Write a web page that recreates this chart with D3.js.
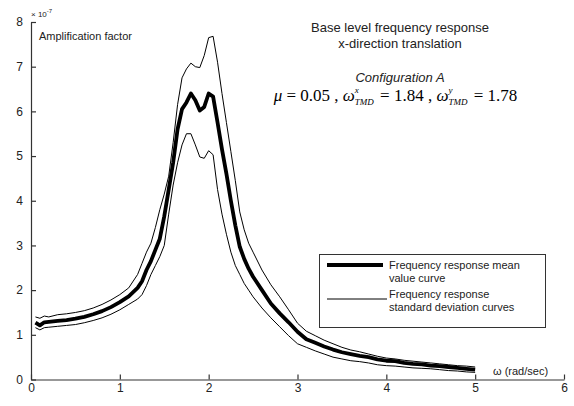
<!DOCTYPE html>
<html><head><meta charset="utf-8">
<script src="https://cdn.jsdelivr.net/npm/d3@7"></script>
<style>
html,body{margin:0;padding:0;background:#fff;}
svg{display:block;font-family:Arial,"Liberation Sans",sans-serif;}
text.eq{white-space:pre;}
</style></head>
<body><svg id="c" width="574" height="406"></svg>
<script>
// ---- data (values in units of 1e-7) ----
const omega = [0.05,0.1,0.15,0.2,0.3,0.4,0.5,0.6,0.7,0.8,0.9,1.0,1.1,1.2,1.25,1.3,1.35,1.4,1.45,1.5,1.55,1.6,1.65,1.7,1.75,1.8,1.85,1.9,1.95,2.0,2.05,2.1,2.15,2.2,2.25,2.3,2.35,2.4,2.45,2.5,2.6,2.7,2.8,2.9,3.0,3.1,3.2,3.3,3.4,3.5,3.6,3.7,3.8,3.9,4.0,4.1,4.2,4.3,4.4,4.5,4.6,4.7,4.8,4.9,5.0];
const meanCurve = [1.27,1.21,1.28,1.29,1.31,1.33,1.36,1.40,1.46,1.53,1.62,1.73,1.86,2.05,2.20,2.45,2.65,2.90,3.15,3.65,4.25,4.85,5.60,6.05,6.20,6.40,6.25,6.02,6.10,6.40,6.33,5.75,5.15,4.60,4.00,3.45,2.97,2.70,2.48,2.30,2.00,1.70,1.48,1.28,1.07,0.90,0.82,0.74,0.67,0.61,0.57,0.53,0.50,0.45,0.42,0.41,0.37,0.35,0.34,0.31,0.30,0.28,0.26,0.24,0.22];
const upperCurve = [1.40,1.37,1.42,1.40,1.45,1.47,1.50,1.54,1.60,1.68,1.78,1.90,2.05,2.35,2.60,2.85,3.05,3.40,3.80,4.15,4.55,5.30,6.15,6.75,6.95,7.08,7.00,6.98,7.25,7.65,7.68,7.10,6.40,5.75,5.10,4.45,3.75,3.35,3.05,2.85,2.45,2.12,1.85,1.56,1.26,1.08,0.98,0.88,0.80,0.72,0.66,0.62,0.57,0.52,0.48,0.46,0.43,0.41,0.39,0.37,0.35,0.33,0.31,0.30,0.28];
const lowerCurve = [1.16,1.11,1.16,1.17,1.19,1.21,1.23,1.27,1.32,1.38,1.46,1.56,1.68,1.80,1.90,2.10,2.35,2.55,2.75,3.00,3.70,4.35,4.85,5.25,5.50,5.50,5.25,4.98,4.95,5.12,5.03,4.25,3.70,3.25,2.85,2.55,2.35,2.15,2.00,1.85,1.60,1.38,1.18,0.98,0.80,0.72,0.64,0.57,0.50,0.46,0.42,0.40,0.37,0.33,0.31,0.30,0.28,0.26,0.25,0.24,0.22,0.20,0.19,0.17,0.16];
const xTicks = [0,1,2,3,4,5,6];
const yTicks = [0,1,2,3,4,5,6,7,8];
const titleLines = ["Base level frequency response","x-direction translation"];
const configLabel = "Configuration A";
const legendLabels = [["Frequency response mean","value curve"],["Frequency response","standard deviation curves"]];

const svg = d3.select("#c");
const x = d3.scaleLinear().domain([0,6]).range([31,564]);
const y = d3.scaleLinear().domain([0,8]).range([379.5,22]);
const ink = "#222";

// axes
const xAx = svg.append("g").attr("transform",`translate(0,${y(0)})`)
  .call(d3.axisBottom(x).tickValues(xTicks).tickSize(-5).tickSizeOuter(0).tickPadding(4).tickFormat(d3.format("d")));
const yAx = svg.append("g").attr("transform",`translate(${x(0)},0)`)
  .call(d3.axisLeft(y).tickValues(yTicks).tickSize(-5).tickSizeOuter(0).tickPadding(8).tickFormat(d3.format("d")));
[xAx,yAx].forEach(g=>{
  g.selectAll("path,line").attr("stroke","#333").attr("stroke-width",1.2);
  g.selectAll("text").attr("fill",ink).style("font-size","12px").style("font-family","Arial,'Liberation Sans',sans-serif");
});

// curves
const pts = arr => omega.map((w,i)=>[w,arr[i]]);
const line = d3.line().x(d=>x(d[0])).y(d=>y(d[1]));
[upperCurve,lowerCurve].forEach(a=>svg.append("path").attr("d",line(pts(a))).attr("fill","none").attr("stroke","#000").attr("stroke-width",1));
svg.append("path").attr("d",line(pts(meanCurve))).attr("fill","none").attr("stroke","#000").attr("stroke-width",3.8).attr("stroke-linejoin","round");

// axis annotations
svg.append("text").attr("x",39).attr("y",40).attr("fill",ink).style("font-size","11px").text("Amplification factor");
const exp = svg.append("text").attr("x",31).attr("y",17).attr("fill",ink).style("font-size","8px");
exp.append("tspan").text("\u00d7 10");
exp.append("tspan").attr("dy",-4).style("font-size","6px").text("-7");
svg.append("text").attr("x",493).attr("y",375).attr("fill",ink).style("font-size","11px").text("\u03c9 (rad/sec)");

// titles
svg.selectAll("text.title").data(titleLines).join("text").attr("class","title")
  .attr("x",400).attr("y",(d,i)=>32+i*16).attr("text-anchor","middle").attr("fill",ink).style("font-size","13px").text(d=>d);
svg.append("text").attr("x",400).attr("y",82).attr("text-anchor","middle").attr("fill",ink)
  .style("font-size","13px").style("font-style","italic").text(configLabel);

// equation
const eqFont = "'Liberation Serif','Times New Roman',serif";
const eqG = svg.append("g");
let cx = 0; const base = 101;
function seg(t,opts={}){
  const el = eqG.append("text").attr("class","eq").attr("x",cx).attr("y",base+(opts.dy||0)).attr("fill","#000")
    .style("font-family",eqFont).style("font-size",(opts.size||17)+"px")
    .style("font-style",opts.italic?"italic":"normal").text(t);
  const w = el.node().getComputedTextLength();
  if(!opts.noAdvance) cx += w;
  return w;
}
function omegaScript(sup){
  seg("\u03c9",{italic:true});
  const w1 = seg(sup,{italic:true,size:9,dy:-8,noAdvance:true});
  const w2 = seg("TMD",{italic:true,size:9,dy:4,noAdvance:true});
  cx += Math.max(w1,w2)+2;
}
seg("\u03bc",{italic:true}); seg(" = 0.05 , ");
omegaScript("x"); seg(" = 1.84 , ");
omegaScript("y"); seg(" = 1.78");
const eqW = cx;
const sc = Math.min(1, 247/eqW);
eqG.attr("transform",`translate(${395.5 - eqW*sc/2},0) scale(${sc},1)`);

// legend
const lg = svg.append("g");
lg.append("rect").attr("x",319.5).attr("y",254.5).attr("width",226).attr("height",73).attr("fill","#fff").attr("stroke","#333").attr("stroke-width",1);
lg.append("line").attr("x1",327).attr("x2",383).attr("y1",265).attr("y2",265).attr("stroke","#000").attr("stroke-width",3.8);
lg.append("line").attr("x1",327).attr("x2",387).attr("y1",299).attr("y2",299).attr("stroke","#000").attr("stroke-width",1);
const lyy = [[269,282],[298,311]];
legendLabels.forEach((lines,i)=>lines.forEach((t,j)=>{
  lg.append("text").attr("x",389).attr("y",lyy[i][j]).attr("fill",ink).style("font-size","11px").text(t);
}));
</script></body></html>
